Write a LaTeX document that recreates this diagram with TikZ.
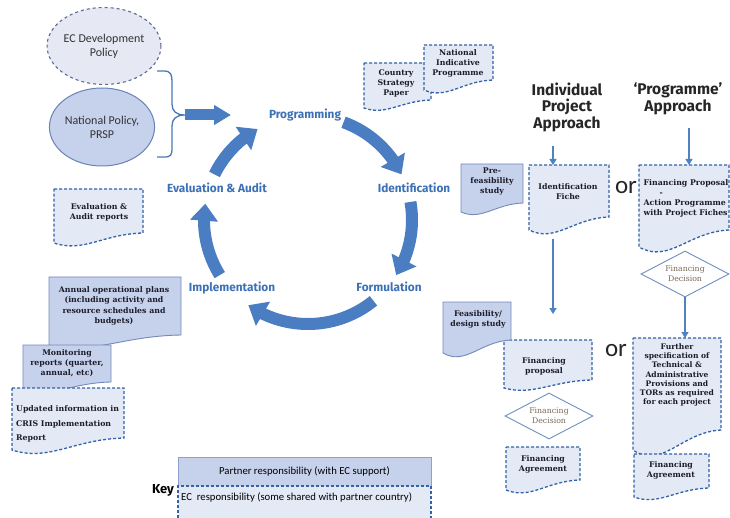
\documentclass[tikz,border=0pt]{standalone}
\usepackage{fontspec}
\setmainfont{DejaVu Serif}
\newfontfamily\carl{Carlito}
\newfontfamily\fira{Fira Sans}
\usetikzlibrary{arrows.meta,bending,shapes.geometric,calc}
\definecolor{medfill}{HTML}{C6D1EC}
\definecolor{medline}{HTML}{7489BC}
\definecolor{ltfill}{HTML}{E4E9F6}
\definecolor{ltfill2}{HTML}{E6E9F3}
\definecolor{dashc}{HTML}{3462A6}
\definecolor{ecdash}{HTML}{5A6C92}
\definecolor{natline}{HTML}{6A82B6}
\definecolor{arrc}{HTML}{4A7DC1}
\definecolor{labc}{HTML}{3D71B6}
\definecolor{thinc}{HTML}{4F82C2}
\definecolor{bracec}{HTML}{4A78B6}
\definecolor{txt}{HTML}{1C1C28}
\definecolor{decline}{HTML}{6F8EC0}
\definecolor{dectxt}{HTML}{7A6A5A}
\definecolor{keyline}{HTML}{8CA0CB}
\newcommand{\mydoc}[6]{%
  \draw[#1] (#2,#3) -- (#4,#3) -- (#4,#5) .. controls ({#2+0.55*(#4-#2)},{#5+0.1*(#6-#5)}) and ({#2+0.33*(#4-#2)},{#6+1.0*(#6-#5)}) .. (#2,#6) -- cycle;}
\begin{document}
\begin{tikzpicture}[x=1pt,y=-1pt,
  doctxt/.style={font=\fontsize{7.8}{10}\selectfont\bfseries, text=txt, align=center, inner sep=0pt},
  medbox/.style={fill=medfill, draw=medline, line width=0.9pt},
  ecbox/.style={fill=ltfill, draw=dashc, line width=1.3pt, dash pattern=on 3pt off 2pt},
  cyclab/.style={font=\fira\bfseries\fontsize{11.8}{13}\selectfont, text=labc, inner sep=0pt},
  cyc/.style={draw=arrc, line width=12pt, -{Triangle[length=17pt,width=27pt,flex]}},
  thinarr/.style={draw=thinc, line width=1.3pt, -{Triangle[length=6pt,width=7pt]}},
  hdtxt/.style={font=\fira\bfseries\fontsize{15.5}{16.5}\selectfont, align=center, text=black!85, inner sep=0pt},
  orstyle/.style={font=\carl\fontsize{25}{25}\selectfont, text=black!85, inner sep=0pt},
  decnode/.style={diamond, draw=decline, fill=white, line width=0.9pt, minimum width=88pt, minimum height=46pt, inner sep=0pt, aspect=2, font=\fontsize{7.8}{10}\selectfont, text=dectxt, align=center},
  circtxt/.style={ellipse, inner sep=0pt, align=center, font=\carl\fontsize{12}{14}\selectfont, text=black!80},
]
\useasboundingbox (0,0) rectangle (730,518);
\clip (0,0) rectangle (730,518);
\fill[white] (0,0) rectangle (730,518);

% policy circles
\node[circtxt, minimum width=86pt, minimum height=77pt, fill=ltfill2, draw=ecdash, dashed, line width=1.1pt] (ecdev) at (104,46) {EC Development\\Policy};
\node[circtxt, minimum width=80pt, minimum height=78pt, fill=medfill, draw=natline, line width=1pt] (natpol) at (102,127) {National Policy,\\PRSP};

% brace and block arrow
\coordinate (brtip) at (185,115);
\coordinate (blend) at (231,115);
\draw[draw=bracec, line width=1.3pt] (157,71) -- (164,71) .. controls (171,71) and (172,75) .. (172,82) -- (172,104) .. controls (172,111) and (176,115) .. (brtip) .. controls (176,115) and (172,119) .. (172,126) -- (172,148) .. controls (172,155) and (171,157) .. (164,157) -- (157,157);
\draw[draw=arrc, line width=11pt, -{Triangle[length=17pt,width=19pt]}] (brtip) -- (blend);

% cycle
\coordinate (cc) at (308,220);
\node[cyclab] (prog) at (305,115) {Programming};
\node[cyclab] (ident) at (414,188) {Identification};
\node[cyclab] (form) at (389,287) {Formulation};
\node[cyclab] (impl) at (232,288) {Implementation};
\node[cyclab] (eval) at (217,188) {Evaluation \& Audit};
\draw[cyc] ([shift={(70:104pt)}]cc) arc[start angle=70, end angle=26, radius=104pt];
\draw[cyc] ([shift={(10:104pt)}]cc) arc[start angle=10, end angle=-32, radius=104pt];
\draw[cyc] ([shift={(-51:104pt)}]cc) arc[start angle=-51, end angle=-125, radius=104pt];
\draw[cyc] ([shift={(212:104pt)}]cc) arc[start angle=212, end angle=171, radius=104pt];
\draw[cyc] ([shift={(154:104pt)}]cc) arc[start angle=154, end angle=119, radius=104pt];

% programming documents
\mydoc{ecbox}{364}{63}{431}{100}{108}
\node[doctxt] (csp) at (396,83) {Country\\Strategy\\Paper};
\mydoc{ecbox}{424}{45}{493}{80}{90}
\node[doctxt] (nip) at (458,63) {National\\Indicative\\Programme};

% headings
\node[hdtxt] (indhead) at (567,107) {Individual\\Project\\Approach};
\node[hdtxt] (proghead) at (678,99) {‘Programme’\\Approach};

% identification
\mydoc{medbox}{461}{164}{523}{203}{212}
\node[doctxt] (prefeas) at (492,182) {Pre-\\feasibility\\study};
\mydoc{ecbox}{529}{165}{609}{217}{230}
\node[doctxt] (idfiche) at (568,192) {Identification\\Fiche};
\node[orstyle] (or1) at (626,188) {or};
\mydoc{ecbox}{639}{165}{729}{230}{247}
\node[doctxt, align=left] (finprop2) at (686,198) {Financing\ Proposal\\\hspace*{16pt}-\\Action\ Programme\\with Project Fiches};

\coordinate (ia1) at (553,146); \coordinate (ia2) at (553,165);
\draw[thinarr] (ia1) -- (ia2);
\coordinate (pa1) at (689,128); \coordinate (pa2) at (689,165);
\draw[thinarr] (pa1) -- (pa2);
\coordinate (fa1) at (553,239); \coordinate (fa2) at (553,314);
\draw[thinarr] (fa1) -- (fa2);

% programme branch
\node[decnode] (dec2) at (685,274) {Financing\\Decision};
\coordinate (fs) at (685,338);
\draw[thinarr] (dec2.south) -- (fs);
\mydoc{ecbox}{633}{338}{721}{430}{450}
\node[doctxt, font=\fontsize{7.6}{9.3}\selectfont\bfseries] (further) at (677,375) {Further\\specification of\\Technical \&\\Administrative\\Provisions and\\TORs as required\\for each project};
\node[orstyle] (or2) at (616,351) {or};
\mydoc{ecbox}{634}{454}{709}{488}{497}
\node[doctxt] (finagr2) at (671,470) {Financing\\Agreement};

% individual branch
\mydoc{ecbox}{504}{340}{592}{380}{388}
\node[doctxt] (finprop1) at (544,366) {Financing\\proposal};
\mydoc{medbox}{443}{302}{511}{340}{353}
\node[doctxt] (feas) at (478,319) {Feasibility/\\design\ study};
\node[decnode] (dec1) at (549,416) {Financing\\Decision};
\mydoc{ecbox}{506}{447}{580}{480}{490}
\node[doctxt] (finagr1) at (543,464) {Financing\\Agreement};

% left side documents
\mydoc{ecbox}{54}{189}{143}{233}{243}
\node[doctxt] (evrep) at (99,212) {Evaluation \&\\Audit reports};
\mydoc{medbox}{49}{277}{181}{335}{345}
\node[doctxt, font=\fontsize{7.8}{10.5}\selectfont\bfseries] (annual) at (114,306) {Annual operational plans\\(including activity and\\resource schedules and\\budgets)};
\mydoc{medbox}{23}{345}{111}{382}{390}
\node[doctxt] (monit) at (67,363) {Monitoring\\reports (quarter,\\annual, etc)};
\mydoc{ecbox}{12}{388}{124}{438}{450}
\node[doctxt, align=left, anchor=west, font=\fontsize{7.8}{14.5}\selectfont\bfseries] (cris) at (16,424) {Updated information in\\CRIS Implementation\\Report};

% key
\node[font=\fira\bfseries\fontsize{13}{14}\selectfont, inner sep=0pt] (key) at (163,490) {Key};
\node[draw=keyline, fill=medfill, line width=0.9pt, minimum width=253pt, minimum height=29pt, inner sep=0pt, font=\carl\fontsize{10.7}{12}\selectfont] (partner) at (304.5,471.5) {Partner responsibility (with EC support)};
\node[ecbox, minimum width=253pt, minimum height=40pt, inner sep=0pt] (ecresp) at (304.5,506) {};
\node[anchor=west, inner sep=0pt, font=\carl\fontsize{10.7}{12}\selectfont] (ectext) at (181,497) {EC\ \ responsibility (some shared with partner country)};
\end{tikzpicture}
\end{document}
